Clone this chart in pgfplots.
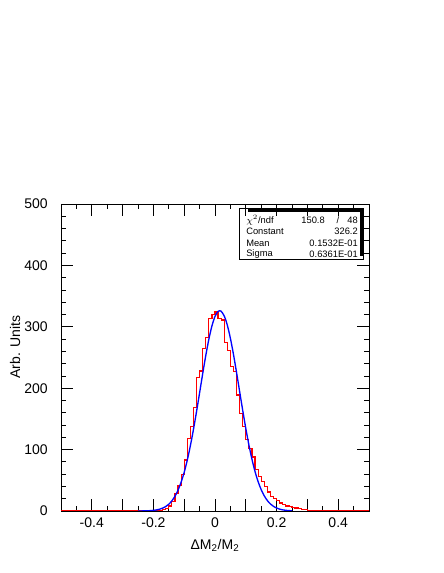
\documentclass[border=0pt]{standalone}
\usepackage{pgfplots}
\pgfplotsset{compat=1.18}
\usepackage{fontspec}
\setmainfont{Liberation Sans}

\begin{document}
\begin{tikzpicture}[font=\fontsize{10.5}{12}\selectfont]
\useasboundingbox (0,0) rectangle (332.25pt,429.75pt);

\begin{axis}[
    at={(45.75pt,46.5pt)}, anchor=south west,
    scale only axis, width=231pt, height=230.25pt,
    xmin=-0.5, xmax=0.5, ymin=0, ymax=500,
    tick pos=both, tick align=inside,
    xtick={-0.5,-0.4,...,0.51},
    xticklabels={,-0.4,,-0.2,,0,,0.2,,0.4,},
    minor x tick num=1,
    ytick={0,100,...,500},
    yticklabels={0,100,200,300,400,500},
    minor y tick num=4,
    major tick length=9pt, minor tick length=4pt,
    every tick/.style={black, line width=0.6pt},
    axis line style={line width=0.6pt},
    xticklabel style={inner sep=0pt, yshift=-4.5pt},
    yticklabel style={inner sep=0pt, xshift=-9.75pt},
    xlabel={ΔM\textsubscript{2}/M\textsubscript{2}},
    ylabel={Arb. Units},
    every axis x label/.style={at={(axis description cs:0.5,-0.111)}, anchor=center},
    every axis y label/.style={at={(axis description cs:-0.149,0.534)}, rotate=90, anchor=center},
]

% histogram, left bin edges
\addplot[const plot, red, line width=0.9pt, mark=none] coordinates {
    (-0.50,0) (-0.20,0) (-0.19,1) (-0.18,1) (-0.17,2) (-0.16,4) (-0.15,8)
    (-0.14,15) (-0.13,29) (-0.12,42) (-0.11,59) (-0.10,83) (-0.09,118)
    (-0.08,138) (-0.07,169) (-0.06,217) (-0.05,228) (-0.04,265) (-0.03,283)
    (-0.02,314) (-0.01,320) (0.00,324) (0.01,314) (0.02,311) (0.03,274)
    (0.04,262) (0.05,235) (0.06,227) (0.07,189) (0.08,159) (0.09,137)
    (0.10,116) (0.11,102) (0.12,88) (0.13,67) (0.14,56) (0.15,48) (0.16,40)
    (0.17,31) (0.18,24) (0.19,21) (0.20,17) (0.21,13) (0.22,10) (0.23,8)
    (0.24,7) (0.25,6) (0.26,5) (0.27,4) (0.28,3) (0.29,2) (0.30,1) (0.31,1)
    (0.32,1) (0.33,0) (0.50,0)
};

% gaussian fit
\addplot[blue, line width=1pt, mark=none, smooth] coordinates {
    (-0.25,0.05) (-0.24,0.10) (-0.23,0.19) (-0.22,0.35) (-0.21,0.61)
    (-0.20,1.06) (-0.19,1.78) (-0.18,2.93) (-0.17,4.68) (-0.16,7.31)
    (-0.15,11.1) (-0.14,16.6) (-0.13,24.0) (-0.12,34.0) (-0.11,46.9)
    (-0.10,63.1) (-0.09,82.8) (-0.08,106.2) (-0.07,132.7) (-0.06,161.8)
    (-0.05,192.5) (-0.04,223.5) (-0.03,253.1) (-0.02,279.6) (-0.01,301.3)
    (0.00,316.9) (0.01,325.1) (0.0153,326.2) (0.02,325.3) (0.03,317.6)
    (0.04,302.6) (0.05,281.2) (0.06,254.9) (0.07,225.4) (0.08,194.5)
    (0.09,163.8) (0.10,134.5) (0.11,107.7) (0.12,84.2) (0.13,64.2)
    (0.14,47.8) (0.15,34.7) (0.16,24.6) (0.17,17.0) (0.18,11.4)
    (0.19,7.51) (0.20,4.82) (0.21,3.02) (0.22,1.84) (0.23,1.10)
    (0.24,0.64) (0.25,0.36)
};
\end{axis}

% statistics box
\draw[line width=0.5pt] (179.25pt,235.5pt) rectangle (272.25pt,273.5pt);
\draw[line width=2pt] (186pt,271.8pt) -- (271.2pt,271.8pt) -- (271.2pt,238pt);
\begin{scope}[every node/.style={font=\fontsize{7}{8}\selectfont, inner sep=0pt}]
\node[anchor=west] at (184.5pt,264.3pt) {$\chi^2$/ndf};
\node[anchor=east] at (243.75pt,264.3pt) {150.8};
\node at (253.5pt,264.3pt) {/};
\node[anchor=east] at (268.5pt,264.3pt) {48};
\node[anchor=west] at (184.5pt,256pt) {Constant};
\node[anchor=east] at (268.5pt,256pt) {326.2};
\node[anchor=west] at (184.5pt,247.6pt) {Mean};
\node[anchor=east] at (268.5pt,247.6pt) {0.1532E-01};
\node[anchor=west] at (184.5pt,239.2pt) {Sigma};
\node[anchor=east] at (268.5pt,239.2pt) {0.6361E-01};
\end{scope}
\end{tikzpicture}
\end{document}
